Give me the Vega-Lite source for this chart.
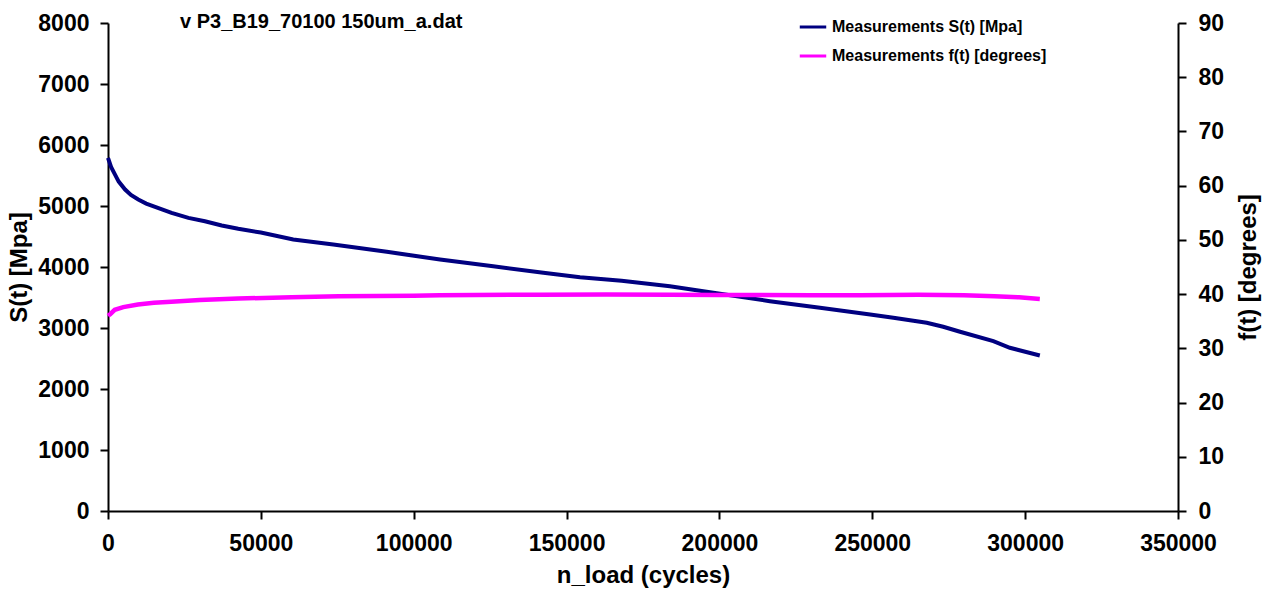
{
  "$schema": "https://vega.github.io/schema/vega-lite/v6.json",
  "width": 1070,
  "height": 488,
  "autosize": {"type": "none"},
  "padding": {"left": 108, "top": 23, "right": 88, "bottom": 81},
  "background": "white",
  "config": {
    "view": {"stroke": null},
    "font": "Liberation Sans",
    "axis": {
      "grid": false,
      "domainColor": "black",
      "domainWidth": 2,
      "tickColor": "black",
      "tickWidth": 2,
      "tickSize": 8,
      "labelFont": "Liberation Sans",
      "labelFontWeight": "bold",
      "labelFontSize": 23,
      "labelColor": "black",
      "titleFont": "Liberation Sans",
      "titleFontWeight": "bold",
      "titleFontSize": 24,
      "titleColor": "black"
    }
  },
  "title": {
    "text": "v P3_B19_70100 150um_a.dat",
    "anchor": "start",
    "frame": "group",
    "dx": 72,
    "dy": 37,
    "offset": -3,
    "baseline": "bottom",
    "font": "Liberation Sans",
    "fontSize": 20,
    "fontWeight": "bold",
    "color": "black"
  },
  "data": {
    "values": [
      {"cycles": 0, "value": 5790, "series": "Measurements S(t) [Mpa]"},
      {"cycles": 1000, "value": 5640, "series": "Measurements S(t) [Mpa]"},
      {"cycles": 2300, "value": 5515, "series": "Measurements S(t) [Mpa]"},
      {"cycles": 3500, "value": 5400, "series": "Measurements S(t) [Mpa]"},
      {"cycles": 5600, "value": 5270, "series": "Measurements S(t) [Mpa]"},
      {"cycles": 7500, "value": 5180, "series": "Measurements S(t) [Mpa]"},
      {"cycles": 9900, "value": 5106, "series": "Measurements S(t) [Mpa]"},
      {"cycles": 12500, "value": 5040, "series": "Measurements S(t) [Mpa]"},
      {"cycles": 15400, "value": 4986, "series": "Measurements S(t) [Mpa]"},
      {"cycles": 20800, "value": 4888, "series": "Measurements S(t) [Mpa]"},
      {"cycles": 26300, "value": 4806, "series": "Measurements S(t) [Mpa]"},
      {"cycles": 31700, "value": 4750, "series": "Measurements S(t) [Mpa]"},
      {"cycles": 37200, "value": 4680, "series": "Measurements S(t) [Mpa]"},
      {"cycles": 42600, "value": 4626, "series": "Measurements S(t) [Mpa]"},
      {"cycles": 50000, "value": 4565, "series": "Measurements S(t) [Mpa]"},
      {"cycles": 60600, "value": 4451, "series": "Measurements S(t) [Mpa]"},
      {"cycles": 73700, "value": 4369, "series": "Measurements S(t) [Mpa]"},
      {"cycles": 91200, "value": 4249, "series": "Measurements S(t) [Mpa]"},
      {"cycles": 108600, "value": 4123, "series": "Measurements S(t) [Mpa]"},
      {"cycles": 126000, "value": 4013, "series": "Measurements S(t) [Mpa]"},
      {"cycles": 142400, "value": 3905, "series": "Measurements S(t) [Mpa]"},
      {"cycles": 154400, "value": 3833, "series": "Measurements S(t) [Mpa]"},
      {"cycles": 168000, "value": 3775, "series": "Measurements S(t) [Mpa]"},
      {"cycles": 183800, "value": 3686, "series": "Measurements S(t) [Mpa]"},
      {"cycles": 200200, "value": 3561, "series": "Measurements S(t) [Mpa]"},
      {"cycles": 216500, "value": 3440, "series": "Measurements S(t) [Mpa]"},
      {"cycles": 232900, "value": 3332, "series": "Measurements S(t) [Mpa]"},
      {"cycles": 249300, "value": 3222, "series": "Measurements S(t) [Mpa]"},
      {"cycles": 256900, "value": 3168, "series": "Measurements S(t) [Mpa]"},
      {"cycles": 267800, "value": 3086, "series": "Measurements S(t) [Mpa]"},
      {"cycles": 273200, "value": 3020, "series": "Measurements S(t) [Mpa]"},
      {"cycles": 278700, "value": 2938, "series": "Measurements S(t) [Mpa]"},
      {"cycles": 289600, "value": 2785, "series": "Measurements S(t) [Mpa]"},
      {"cycles": 295000, "value": 2676, "series": "Measurements S(t) [Mpa]"},
      {"cycles": 304800, "value": 2550, "series": "Measurements S(t) [Mpa]"},
      {"cycles": 0, "value": 36.0, "series": "Measurements f(t) [degrees]"},
      {"cycles": 700, "value": 36.3, "series": "Measurements f(t) [degrees]"},
      {"cycles": 2200, "value": 37.1, "series": "Measurements f(t) [degrees]"},
      {"cycles": 5000, "value": 37.6, "series": "Measurements f(t) [degrees]"},
      {"cycles": 9800, "value": 38.1, "series": "Measurements f(t) [degrees]"},
      {"cycles": 15000, "value": 38.4, "series": "Measurements f(t) [degrees]"},
      {"cycles": 20700, "value": 38.6, "series": "Measurements f(t) [degrees]"},
      {"cycles": 30000, "value": 38.9, "series": "Measurements f(t) [degrees]"},
      {"cycles": 42600, "value": 39.2, "series": "Measurements f(t) [degrees]"},
      {"cycles": 60000, "value": 39.4, "series": "Measurements f(t) [degrees]"},
      {"cycles": 75400, "value": 39.6, "series": "Measurements f(t) [degrees]"},
      {"cycles": 100000, "value": 39.7, "series": "Measurements f(t) [degrees]"},
      {"cycles": 108500, "value": 39.8, "series": "Measurements f(t) [degrees]"},
      {"cycles": 141300, "value": 39.9, "series": "Measurements f(t) [degrees]"},
      {"cycles": 163000, "value": 39.94, "series": "Measurements f(t) [degrees]"},
      {"cycles": 183800, "value": 39.9, "series": "Measurements f(t) [degrees]"},
      {"cycles": 200000, "value": 39.85, "series": "Measurements f(t) [degrees]"},
      {"cycles": 230000, "value": 39.8, "series": "Measurements f(t) [degrees]"},
      {"cycles": 246000, "value": 39.8, "series": "Measurements f(t) [degrees]"},
      {"cycles": 265000, "value": 39.9, "series": "Measurements f(t) [degrees]"},
      {"cycles": 280000, "value": 39.8, "series": "Measurements f(t) [degrees]"},
      {"cycles": 290000, "value": 39.6, "series": "Measurements f(t) [degrees]"},
      {"cycles": 298000, "value": 39.4, "series": "Measurements f(t) [degrees]"},
      {"cycles": 304800, "value": 39.1, "series": "Measurements f(t) [degrees]"}
    ]
  },
  "encoding": {
    "x": {
      "field": "cycles",
      "type": "quantitative",
      "scale": {"domain": [0, 350000], "nice": false, "zero": true},
      "axis": {
        "values": [0, 50000, 100000, 150000, 200000, 250000, 300000, 350000],
        "format": "d",
        "title": "n_load (cycles)",
        "labelPadding": 13,
        "titlePadding": 8,
        "labelFlush": false
      }
    },
    "color": {
      "field": "series",
      "type": "nominal",
      "scale": {
        "domain": ["Measurements S(t) [Mpa]", "Measurements f(t) [degrees]"],
        "range": ["#000080", "#FF00FF"]
      },
      "legend": {
        "title": null,
        "orient": "none",
        "legendX": 690,
        "legendY": -11,
        "symbolType": "stroke",
        "symbolSize": 700,
        "symbolStrokeWidth": 3,
        "labelFont": "Liberation Sans",
        "labelFontSize": 16,
        "labelFontWeight": "bold",
        "labelColor": "black",
        "labelOffset": 4,
        "rowPadding": 6,
        "labelLimit": 400
      }
    }
  },
  "layer": [
    {
      "transform": [{"filter": "datum.series === 'Measurements S(t) [Mpa]'"}],
      "mark": {"type": "line", "strokeWidth": 4},
      "encoding": {
        "y": {
          "field": "value",
          "type": "quantitative",
          "scale": {"domain": [0, 8000], "nice": false},
          "axis": {
            "orient": "left",
            "values": [0, 1000, 2000, 3000, 4000, 5000, 6000, 7000, 8000],
            "format": "d",
            "title": "S(t) [Mpa]",
            "labelPadding": 11,
            "titlePadding": 6,
            "labelFlush": false
          }
        }
      }
    },
    {
      "transform": [{"filter": "datum.series === 'Measurements f(t) [degrees]'"}],
      "mark": {"type": "line", "strokeWidth": 4.5},
      "encoding": {
        "y": {
          "field": "value",
          "type": "quantitative",
          "scale": {"domain": [0, 90], "nice": false},
          "axis": {
            "orient": "right",
            "values": [0, 10, 20, 30, 40, 50, 60, 70, 80, 90],
            "format": "d",
            "title": "f(t) [degrees]",
            "titleAngle": 270,
            "titleX": 70,
            "titleY": 244,
            "titleAlign": "center",
            "titleBaseline": "middle",
            "labelPadding": 12,
            "labelFlush": false
          }
        }
      }
    }
  ],
  "resolve": {"scale": {"y": "independent"}}
}
